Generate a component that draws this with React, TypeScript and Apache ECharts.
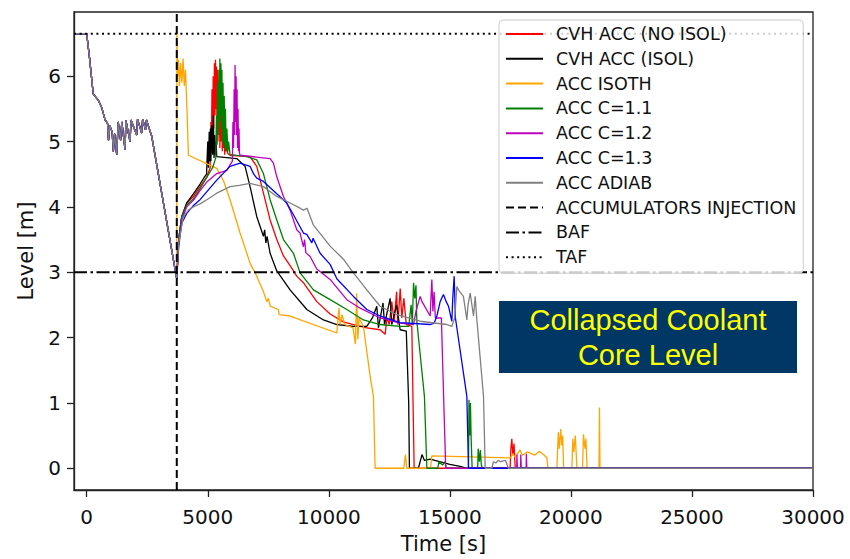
import React, { useEffect, useRef } from "react";
import * as echarts from "echarts";

// ---- axes ----
const xTickValues = [0, 5000, 10000, 15000, 20000, 25000, 30000];
const yTickValues = [0, 1, 2, 3, 4, 5, 6];
const X_MIN = -525;
const X_MAX = 30000;
const Y_MIN = -0.3325;
const Y_MAX = 6.9825;

// ---- reference levels ----
const injectionTime = 3720;
const bafLevel = 3.0;
const tafLevel = 6.65;

// ---- common transient before accumulator injection ----
const preInjection: number[][] = [
  [-500, 6.65], [0, 6.65], [110, 6.3], [270, 5.73], [480, 5.63], [620, 5.52], [760, 5.33],
  [860, 5.28], [900, 5.02], [950, 5.24], [1050, 5.15], [1100, 4.85], [1150, 5.12], [1240, 4.8],
  [1300, 5.3], [1400, 5.02], [1450, 5.3], [1583, 4.88], [1620, 5.32], [1790, 5.0], [1830, 5.33],
  [2066, 5.1], [2100, 5.34], [2272, 5.13], [2310, 5.34], [2430, 5.18], [2470, 5.33], [2546, 5.24],
  [2686, 5.08], [3719, 2.9],
];

// ---- after injection, per case ----
const cvhNoIsol: number[][] = [
  [3800, 3.5], [3925, 3.85], [4132, 4.06], [4405, 4.16], [4682, 4.31], [4959, 4.46], [5100, 4.6],
  [5130, 5.3], [5150, 4.9], [5175, 5.8], [5200, 5.1], [5225, 6.0], [5250, 5.2], [5275, 6.2],
  [5300, 5.4], [5320, 6.25], [5340, 5.5], [5360, 6.15], [5380, 5.3], [5400, 6.1], [5420, 5.0],
  [5440, 5.95], [5460, 5.1], [5480, 5.8], [5500, 4.9], [5520, 5.7], [5540, 5.0], [5570, 5.6],
  [5600, 4.85], [5625, 5.4], [5650, 4.9], [5680, 5.3], [5700, 4.8], [5730, 5.1], [5760, 4.85],
  [5790, 5.0], [5820, 4.82], [5921, 4.79], [6748, 4.77], [7025, 4.62], [7300, 4.21], [7576, 3.8],
  [7851, 3.5], [8126, 3.25], [8401, 3.1], [8676, 2.94], [8951, 2.84], [9504, 2.55], [10054, 2.36],
  [10603, 2.24], [11017, 2.2], [11570, 2.15], [12120, 2.12], [12326, 2.05], [12400, 2.3], [12500, 2.2],
  [12600, 2.55], [12700, 2.25], [12800, 2.7], [12850, 2.2], [12950, 2.75], [13016, 2.3], [13100, 2.6],
  [13200, 2.2], [13430, 2.17], [13480, 1.0], [13525, 0], [17490, 0], [17520, 0.3], [17560, 0.45],
  [17600, 0.2], [17650, 0.38], [17700, 0], [30000, 0],
];
const cvhIsol: number[][] = [
  [3800, 3.5], [3925, 3.85], [4132, 4.06], [4405, 4.2], [4682, 4.35], [4850, 4.45], [4950, 4.5],
  [5000, 5.0], [5030, 4.6], [5060, 5.15], [5080, 4.7], [5110, 5.2], [5130, 4.7], [5160, 5.25],
  [5200, 4.8], [5232, 5.4], [5260, 4.75], [5290, 5.1], [5320, 4.8], [5345, 5.0], [5372, 4.77],
  [6198, 4.74], [6541, 4.62], [6748, 4.31], [7025, 3.85], [7300, 3.55], [7350, 3.65], [7400, 3.45],
  [7450, 3.55], [7576, 3.29], [7851, 3.02], [8401, 2.73], [9091, 2.43], [9777, 2.27], [10331, 2.2],
  [11000, 2.17], [11570, 2.17], [11800, 2.3], [11983, 2.48], [12050, 2.15], [12240, 2.53], [12300, 2.2],
  [12533, 2.6], [12600, 2.2], [12800, 2.5], [12946, 2.12], [13200, 2.1], [13300, 1.0], [13330, 0],
  [13700, 0], [13850, 0.21], [13950, 0.12], [14187, 0.14], [15000, 0.06], [15426, 0.03], [15700, 0],
  [30000, 0],
];
const accIsoth: number[][] = [
  [3725, 6.65], [3760, 6.0], [3790, 6.25], [3830, 5.85], [3880, 6.2], [3930, 5.9], [3980, 6.27],
  [4030, 5.85], [4080, 6.1], [4110, 5.8], [4150, 5.4], [4202, 4.79], [5372, 4.59], [5650, 4.4],
  [5921, 4.11], [6335, 3.6], [6748, 3.14], [7025, 2.94], [7300, 2.7], [7438, 2.55], [7500, 2.6],
  [7576, 2.48], [7917, 2.43], [7950, 2.35], [8401, 2.33], [10331, 2.07], [10420, 2.45], [10470, 2.2],
  [10550, 2.35], [10650, 2.2], [11000, 2.15], [11100, 1.9], [11150, 2.68], [11200, 1.97], [11250, 2.3],
  [11430, 2.17], [11707, 1.41], [11843, 1.1], [11913, 0], [13100, 0], [13165, 0.21], [13220, 0],
  [14200, 0], [14256, 0.19], [17500, 0.16], [17600, 0.22], [17700, 0.17], [17900, 0.28], [18000, 0.2],
  [18200, 0.25], [18500, 0.2], [18700, 0.26], [18900, 0.2], [19008, 0.16], [19050, 0], [19420, 0],
  [19480, 0.55], [19520, 0.3], [19580, 0.6], [19620, 0.35], [19660, 0.5], [19700, 0], [20040, 0],
  [20080, 0.45], [20120, 0.25], [20180, 0.5], [20250, 0], [20480, 0], [20520, 0.52], [20580, 0.3],
  [20620, 0.45], [20670, 0], [21160, 0], [21180, 0.93], [21200, 0], [30000, 0],
];
const accC11: number[][] = [
  [3800, 3.5], [3925, 3.85], [4132, 4.03], [4405, 4.12], [4682, 4.28], [4959, 4.45], [5200, 4.6],
  [5330, 4.75], [5360, 5.4], [5385, 4.95], [5410, 5.9], [5435, 5.1], [5460, 6.1], [5480, 5.3],
  [5500, 6.27], [5520, 5.4], [5545, 6.2], [5565, 5.2], [5585, 6.1], [5605, 5.0], [5630, 5.9],
  [5655, 4.95], [5680, 5.7], [5705, 4.9], [5730, 5.5], [5760, 4.85], [5790, 5.2], [5830, 4.85],
  [5860, 5.0], [5921, 4.8], [6610, 4.77], [7025, 4.72], [7300, 4.51], [7576, 4.11], [7851, 3.8],
  [8126, 3.5], [8539, 3.29], [8814, 2.99], [9366, 2.73], [10054, 2.58], [10744, 2.43], [11430, 2.27],
  [12120, 2.2], [12946, 2.17], [13300, 2.17], [13400, 2.5], [13450, 2.2], [13500, 2.84], [13550, 2.6],
  [13600, 2.8], [13636, 2.25], [13950, 1.1], [14050, 0], [14500, 0], [14550, 0.1], [14700, 0.05],
  [14800, 0.1], [14850, 0], [15770, 0], [15790, 1.05], [15820, 0.5], [15850, 1.0], [15880, 0.45],
  [15920, 0], [16150, 0], [16170, 0.3], [16220, 0.1], [16260, 0.28], [16300, 0.05], [16350, 0],
  [30000, 0],
];
const accC12: number[][] = [
  [3800, 3.45], [3925, 3.8], [4132, 4.0], [4405, 4.1], [4682, 4.25], [4959, 4.38], [5372, 4.51],
  [5785, 4.56], [6017, 4.7], [6040, 5.3], [6065, 4.9], [6090, 5.8], [6110, 5.1], [6128, 6.17],
  [6150, 5.3], [6170, 6.0], [6190, 5.1], [6210, 5.8], [6230, 4.9], [6250, 5.5], [6270, 4.85],
  [6290, 5.2], [6310, 4.82], [6335, 4.79], [7576, 4.74], [7713, 4.67], [7851, 4.46], [8126, 4.16],
  [8401, 3.95], [8676, 3.65], [8814, 3.6], [8951, 3.39], [9000, 3.5], [9050, 3.3], [9228, 3.24],
  [9504, 3.05], [10054, 2.89], [10744, 2.58], [11296, 2.45], [12120, 2.3], [12946, 2.22], [13500, 2.2],
  [13600, 2.4], [13773, 2.63], [13850, 2.55], [14187, 2.33], [14220, 2.6], [14256, 2.89], [14300, 2.4],
  [14350, 2.7], [14400, 2.3], [14650, 2.3], [14750, 1.0], [14830, 0], [17760, 0], [17770, 0.21],
  [17790, 0], [17920, 0], [17930, 0.21], [17950, 0], [18150, 0], [18160, 0.22], [18180, 0], [30000, 0],
];
const accC13: number[][] = [
  [3800, 3.4], [3925, 3.75], [4132, 3.9], [4405, 4.02], [4682, 4.11], [5000, 4.25], [5372, 4.41],
  [5921, 4.62], [6335, 4.67], [6748, 4.62], [6900, 4.5], [7025, 4.44], [7300, 4.39], [7851, 4.2],
  [8264, 4.06], [8539, 3.88], [8951, 3.6], [9091, 3.58], [9300, 3.45], [9350, 3.52], [9640, 3.29],
  [10054, 3.12], [10331, 2.9], [11017, 2.63], [11570, 2.43], [12120, 2.33], [12946, 2.23], [14187, 2.2],
  [14350, 2.22], [14463, 2.33], [14600, 2.55], [14736, 2.66], [14850, 2.55], [14943, 2.48], [15082, 2.25],
  [15120, 2.6], [15178, 2.94], [15230, 2.3], [15702, 1.1], [15770, 0], [30000, 0],
];
const accAdiab: number[][] = [
  [3800, 3.45], [3992, 3.85], [4200, 3.95], [4405, 4.0], [4700, 4.05], [4959, 4.11], [5372, 4.21],
  [5921, 4.31], [6300, 4.33], [6748, 4.36], [7300, 4.31], [7851, 4.16], [8401, 4.06], [8814, 3.98],
  [8951, 3.95], [9100, 3.98], [9366, 3.72], [10054, 3.4], [10603, 3.2], [11017, 2.99], [11570, 2.73],
  [12120, 2.48], [12810, 2.35], [13773, 2.25], [14876, 2.2], [15080, 2.17], [15200, 2.3], [15290, 2.78],
  [15357, 2.73], [15496, 2.66], [15560, 2.63], [15702, 2.27], [15750, 2.5], [15840, 2.68], [15977, 2.33],
  [16046, 2.63], [16117, 2.27], [16390, 1.1], [16460, 0], [16735, 0], [16800, 0.1], [16900, 0.08],
  [17000, 0.12], [17100, 0.1], [17300, 0.12], [17420, 0], [30000, 0],
];

const caseNames = [
  "CVH ACC (NO ISOL)",
  "CVH ACC (ISOL)",
  "ACC ISOTH",
  "ACC C=1.1",
  "ACC C=1.2",
  "ACC C=1.3",
  "ACC ADIAB",
];
const caseColors = ["#ff0000", "#000000", "#ffa500", "#008000", "#bf00bf", "#0000ff", "#808080"];
const caseData = [cvhNoIsol, cvhIsol, accIsoth, accC11, accC12, accC13, accAdiab];

export default function App() {
  const ref = useRef<HTMLDivElement>(null);
  useEffect(() => {
    if (!ref.current) return;
    const chart = echarts.init(ref.current, undefined, { renderer: "svg" });
    const font = "DejaVu Sans";
    const caseSeries = caseNames.map((name, i) => ({
      name,
      type: "line",
      data: [...preInjection, ...caseData[i]],
      symbol: "none",
      showSymbol: false,
      color: caseColors[i],
      lineStyle: { color: caseColors[i], width: 1.3 },
      z: 2,
    }));
    const refSeries = [
      {
        name: "ACCUMULATORS INJECTION",
        type: "line",
        data: [[injectionTime, Y_MIN], [injectionTime, Y_MAX]],
        symbol: "none",
        color: "#000",
        lineStyle: { color: "#000", width: 2, type: [8, 4] },
        z: 3,
      },
      {
        name: "BAF",
        type: "line",
        data: [[X_MIN, bafLevel], [X_MAX, bafLevel]],
        symbol: "none",
        color: "#000",
        lineStyle: { color: "#000", width: 2, type: [13, 3.5, 2.5, 3.5] },
        z: 3,
      },
      {
        name: "TAF",
        type: "line",
        data: [[X_MIN, tafLevel], [X_MAX, tafLevel]],
        symbol: "none",
        color: "#000",
        lineStyle: { color: "#000", width: 2, type: [2, 3.6] },
        z: 3,
      },
    ];
    chart.setOption({
      animation: false,
      backgroundColor: "#fff",
      grid: {
        left: 74, right: 37, top: 12, bottom: 68,
        show: true, borderColor: "#222", borderWidth: 1.3, backgroundColor: "transparent",
      },
      xAxis: {
        type: "value",
        min: X_MIN,
        max: X_MAX,
        name: "Time [s]",
        nameLocation: "middle",
        nameGap: 43,
        nameTextStyle: { fontFamily: font, fontSize: 21, color: "#111" },
        axisLine: { show: true, onZero: false, lineStyle: { color: "#222", width: 1.3 } },
        axisTick: { show: true, length: 7, lineStyle: { color: "#222", width: 1.3 }, customValues: xTickValues },
        axisLabel: {
          fontFamily: font, fontSize: 20, color: "#111", margin: 17, customValues: xTickValues,
          formatter: (v: number) => String(v),
        },
        splitLine: { show: false },
      },
      yAxis: {
        type: "value",
        min: Y_MIN,
        max: Y_MAX,
        name: "Level [m]",
        nameLocation: "middle",
        nameRotate: 90,
        nameGap: 38,
        nameTextStyle: { fontFamily: font, fontSize: 21, color: "#111" },
        axisLine: { show: true, onZero: false, lineStyle: { color: "#222", width: 1.3 } },
        axisTick: { show: true, length: 7, lineStyle: { color: "#222", width: 1.3 }, customValues: yTickValues },
        axisLabel: {
          fontFamily: font, fontSize: 20, color: "#111", margin: 13, customValues: yTickValues,
          formatter: (v: number) => String(v),
        },
        splitLine: { show: false },
      },
      legend: {
        orient: "vertical",
        left: 499,
        top: 20,
        padding: [4, 7, 6, 6],
        itemWidth: 37,
        itemHeight: 14,
        itemGap: 4.8,
        backgroundColor: "rgba(255,255,255,0.8)",
        borderColor: "#cccccc",
        borderWidth: 1,
        borderRadius: 4,
        itemStyle: { opacity: 0 },
        textStyle: { fontFamily: font, fontSize: 17.5, color: "#111", lineHeight: 20, padding: [0, 0, 0, 8] },
        data: [...caseNames, "ACCUMULATORS INJECTION", "BAF", "TAF"],
        selectedMode: false,
        z: 10,
      },
      graphic: [
        {
          type: "group",
          z: 20,
          children: [
            {
              type: "rect",
              shape: { x: 499, y: 301, width: 298, height: 72 },
              style: { fill: "#003764" },
            },
            {
              type: "text",
              x: 648,
              y: 337,
              style: {
                text: "Collapsed Coolant\nCore Level",
                fill: "#ffff00",
                fontFamily: "Liberation Sans",
                fontSize: 29,
                lineHeight: 35,
                align: "center",
                verticalAlign: "middle",
              },
            },
          ],
        },
      ],
      series: [...caseSeries, ...refSeries],
    });
    return () => chart.dispose();
  }, []);
  return (
    <div
      ref={ref}
      style={{ position: "fixed", left: 0, top: 0, width: 850, height: 559, background: "#fff" }}
    />
  );
}
